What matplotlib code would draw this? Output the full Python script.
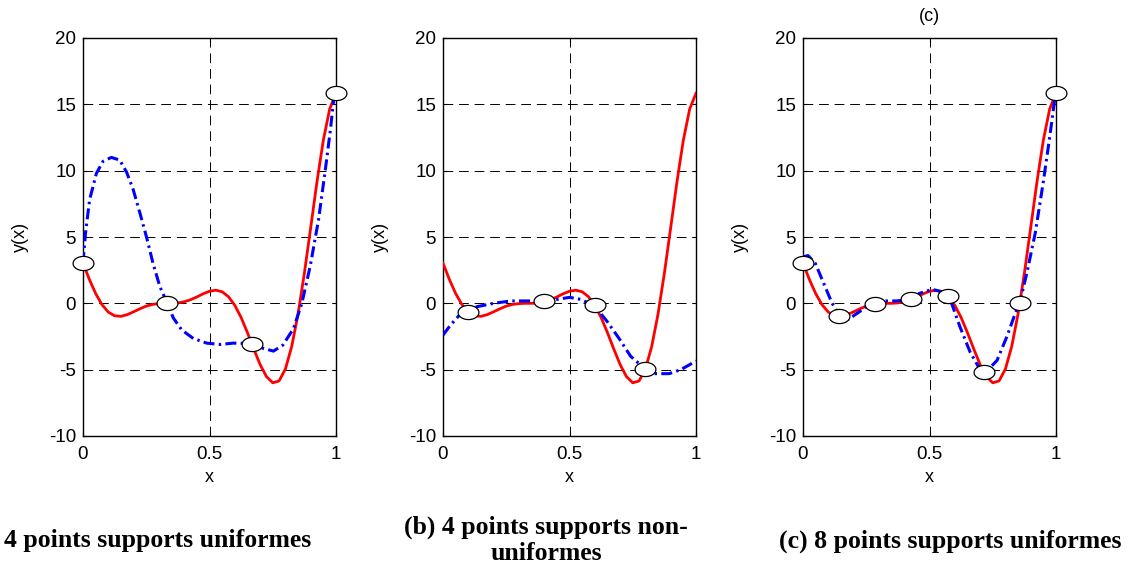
import numpy as np
import matplotlib
matplotlib.use('Agg')
import matplotlib.pyplot as plt
from matplotlib.path import Path


# red curve: true function, same in the three panels
x_true = [0.0, 0.025, 0.05, 0.075, 0.1, 0.125, 0.15, 0.175, 0.2, 0.225,
          0.25, 0.275, 0.3, 0.325, 0.35, 0.375, 0.4, 0.425, 0.45, 0.475,
          0.5, 0.525, 0.55, 0.575, 0.6, 0.625, 0.65, 0.675, 0.7, 0.725,
          0.75, 0.775, 0.8, 0.825, 0.85, 0.875, 0.9, 0.925, 0.95, 0.975, 1.0]
y_true = [3.03, 1.81, 0.74, -0.10, -0.66, -0.94, -0.98, -0.85, -0.64, -0.41,
          -0.21, -0.08, -0.02, 0.0, 0.0, 0.03, 0.12, 0.27, 0.48, 0.72,
          0.91, 0.99, 0.87, 0.50, -0.15, -1.07, -2.21, -3.44, -4.61, -5.52,
          -5.99, -5.85, -4.95, -3.25, -0.80, 2.27, 5.71, 9.19, 12.30, 14.65, 15.83]

# (a) 4 uniform support points
xs_a = [0.0, 0.3333, 0.6667, 1.0]
ys_a = [3.03, 0.0, -3.03, 15.83]
xb_a = [0.0, 0.01, 0.026, 0.053, 0.079, 0.112, 0.145, 0.172, 0.198, 0.225,
        0.251, 0.277, 0.304, 0.333, 0.357, 0.39, 0.436, 0.489, 0.542, 0.594,
        0.667, 0.713, 0.753, 0.79, 0.832, 0.865, 0.898, 0.931, 0.958, 0.978,
        0.991, 1.0]
yb_a = [3.03, 5.3, 7.8, 9.8, 10.7, 11.0, 10.8, 9.9, 8.6, 6.8,
        5.0, 3.0, 1.25, 0.0, -1.1, -2.0, -2.65, -3.0, -3.1, -3.0,
        -3.03, -3.4, -3.6, -3.15, -1.9, 0.0, 2.8, 6.3, 10.1, 13.1,
        15.4, 15.83]

# (b) 4 non-uniform support points
xs_b = [0.1, 0.4, 0.6, 0.8]
ys_b = [-0.66, 0.15, -0.15, -4.95]
xb_b = [0.0, 0.029, 0.062, 0.1, 0.135, 0.2, 0.267, 0.333, 0.4, 0.452,
        0.5, 0.544, 0.6, 0.65, 0.696, 0.742, 0.8, 0.835, 0.894, 0.94, 1.0]
yb_b = [-2.4, -1.65, -0.95, -0.5, -0.25, 0.0, 0.18, 0.18, 0.18, 0.3,
        0.45, 0.3, -0.2, -1.4, -2.65, -4.0, -4.95, -5.3, -5.3, -5.0, -4.35]

# (c) 8 uniform support points
xs_c = [0.0, 0.1429, 0.2857, 0.4286, 0.5714, 0.7143, 0.8571, 1.0]
ys_c = [3.03, -0.99, -0.04, 0.30, 0.57, -5.17, 0.03, 15.83]
xb_c = [0.0, 0.02, 0.049, 0.082, 0.115, 0.148, 0.18, 0.214, 0.253, 0.2857,
        0.316, 0.37, 0.4286, 0.46, 0.51, 0.543, 0.58, 0.62, 0.66, 0.694,
        0.727, 0.767, 0.806, 0.839, 0.8571, 0.885, 0.918, 0.951, 0.977, 0.995, 1.0]
yb_c = [3.5, 3.6, 3.0, 1.5, 0.0, -1.0, -1.2, -0.75, -0.25, 0.0,
        0.18, 0.18, 0.3, 0.75, 1.05, 0.9, 0.4, -1.75, -3.65, -4.8,
        -5.1, -4.3, -2.5, -0.75, 0.08, 2.3, 5.3, 9.3, 12.8, 15.4, 15.83]

# the "(a)" of the first caption is cut off in the source figure
captions = ['4 points supports uniformes',
            '(b) 4 points supports non-\nuniformes',
            '(c) 8 points supports uniformes']
titles = ['', '', '(c)']
x_ticks = [0, 0.5, 1]
x_tick_labels = ['0', '0.5', '1']
y_ticks = [-10, -5, 0, 5, 10, 15, 20]

plt.rcParams['font.family'] = ['Liberation Sans', 'DejaVu Sans']
plt.rcParams['axes.unicode_minus'] = False

# flat ellipse marker for the support points
t = np.linspace(0, 2 * np.pi, 60)
ellipse = Path(np.column_stack([np.cos(t), 0.68 * np.sin(t)]), closed=True)


def draw_panel(ax, xb, yb, xs, ys, title):
    
    ax.plot(x_true, y_true, color='red', linewidth=2.0, zorder=3)
    ax.plot(xb, yb, color='blue', linewidth=2.2,
            linestyle=(0, (3.6, 1.4, 0.8, 1.4)), zorder=4)
    ax.plot(xs, ys, linestyle='none', marker=ellipse, markersize=15,
            markerfacecolor='white', markeredgecolor='black',
            markeredgewidth=0.9, zorder=5, clip_on=False)
    
    ax.set_xlim(0, 1)
    ax.set_ylim(-10, 20)
    ax.set_xticks(x_ticks)
    ax.set_xticklabels(x_tick_labels)
    ax.set_yticks(y_ticks)
    ax.tick_params(direction='in', length=3, width=0.8, labelsize=13.5,
                   top=True, right=True, pad=5)
    ax.tick_params(axis='x', pad=7)
    ax.grid(True, color='black', linewidth=0.7, linestyle=(0, (10, 6)))
    ax.set_axisbelow(True)
    
    ax.set_xlabel('x', fontsize=13)
    ax.set_ylabel('y(x)', fontsize=13)
    ax.xaxis.set_label_coords(0.5, -33 / 398)
    ax.yaxis.set_label_coords(-54 / 253, 0.5)
    
    if title:
        
        ax.set_title(title, fontsize=13, pad=12)
    
    for sp in ax.spines.values():
        
        sp.set_linewidth(1.0)
    
    return


fig = plt.figure(figsize=(11.33, 5.64), dpi=100)
lefts = [83, 443, 803]
panels = [(xb_a, yb_a, xs_a, ys_a), (xb_b, yb_b, xs_b, ys_b), (xb_c, yb_c, xs_c, ys_c)]

for i, (xb, yb, xs, ys) in enumerate(panels):
    
    ax = fig.add_axes([lefts[i] / 1133, 1 - 436 / 564, 253 / 1133, 398 / 564])
    draw_panel(ax, xb, yb, xs, ys, titles[i])

cap_font = dict(family=['Liberation Serif', 'DejaVu Serif'], fontweight='bold', fontsize=18.5)
fig.text(4 / 1133, 1 - 541 / 564, captions[0], ha='left', va='center', **cap_font)
fig.text(546 / 1133, 1 - 540 / 564, captions[1], ha='center', va='center',
         linespacing=1.15, **cap_font)
fig.text(950 / 1133, 1 - 541 / 564, captions[2], ha='center', va='center', **cap_font)

fig.savefig('out.png', dpi=100)
plt.close(fig)
